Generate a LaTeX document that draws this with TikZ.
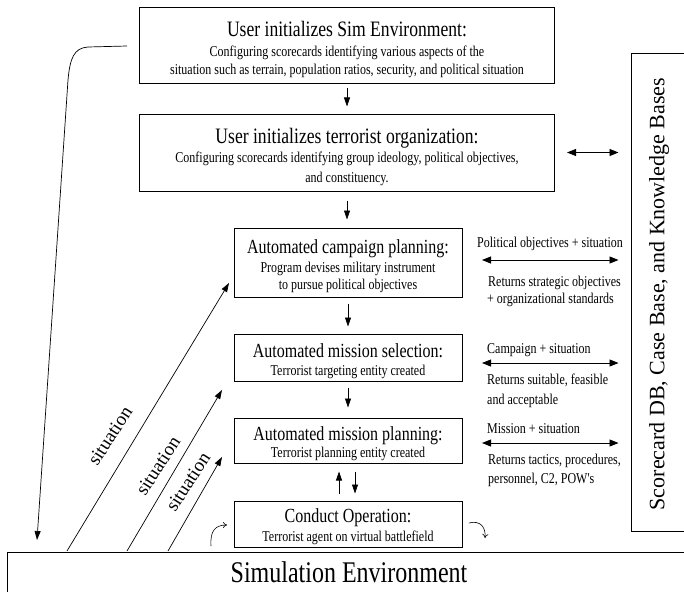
\documentclass[tikz,border=0pt]{standalone}
\usepackage{fontspec}
\setmainfont{Liberation Serif}
\newfontfamily\cnd[FakeStretch=0.8]{Liberation Serif}
\usetikzlibrary{arrows.meta}
\newcommand{\fsz}[1]{\fontsize{#1}{#1}\selectfont}
\begin{document}
\begin{tikzpicture}[x=1pt,y=-1pt,
  box/.style={draw, line width=1pt, inner sep=0pt},
  ttl/.style={anchor=base, inner sep=0pt, font=\cnd\fsz{22}},
  ttls/.style={anchor=base, inner sep=0pt, font=\cnd\fsz{20}},
  sml/.style={anchor=base, inner sep=0pt, font=\cnd\fsz{15}},
  rtxt/.style={anchor=base west, inner sep=0pt, font=\cnd\fsz{15}},
  sit/.style={inner sep=0pt, rotate=57, font=\fsz{19}},
  arr/.style={-{Triangle[length=9pt,width=6pt]}, line width=0.7pt},
  dbl/.style={{Triangle[length=9pt,width=7pt]}-{Triangle[length=9pt,width=7pt]}, line width=0.8pt},
  curv/.style={-{To[length=4pt,width=6pt]}, line width=0.6pt}]
\useasboundingbox (0,0) rectangle (684,591);
\clip (0,0) rectangle (684,591);

% boxes
\node[box, minimum width=415pt, minimum height=76pt] (b1) at (347,46) {};
\node[box, minimum width=415pt, minimum height=77pt] (b2) at (347,152.5) {};
\node[box, minimum width=228pt, minimum height=69pt] (b3) at (348,262.5) {};
\node[box, minimum width=228pt, minimum height=47pt] (b4) at (348,357.5) {};
\node[box, minimum width=228pt, minimum height=45pt] (b5) at (348,440.5) {};
\node[box, minimum width=228pt, minimum height=46pt] (b6) at (348,524) {};
\node[box, minimum width=713pt, minimum height=70pt] (sim) at (363.5,587) {};
\node[box, minimum width=90pt, minimum height=477pt] (kb) at (676,292.5) {};

% box texts
\node[ttl] (t1a) at (347,37) {User initializes Sim Environment:};
\node[sml] (t1b) at (347,57) {Configuring scorecards identifying various aspects of the};
\node[sml] (t1c) at (347,75) {situation such as terrain, population ratios, security, and political situation};
\node[ttl] (t2a) at (347,143) {User initializes terrorist organization:};
\node[sml] (t2b) at (347,162) {Configuring scorecards identifying group ideology, political objectives,};
\node[sml] (t2c) at (347,182) {and constituency.};
\node[ttls] (t3a) at (348,253) {Automated campaign planning:};
\node[sml] (t3b) at (348,272) {Program devises military instrument};
\node[sml] (t3c) at (348,289) {to pursue political objectives};
\node[ttls] (t4a) at (348,357) {Automated mission selection:};
\node[sml] (t4b) at (348,375) {Terrorist targeting entity created};
\node[ttls] (t5a) at (348,440) {Automated mission planning:};
\node[sml] (t5b) at (348,457) {Terrorist planning entity created};
\node[ttls] (t6a) at (348,522) {Conduct Operation:};
\node[sml] (t6b) at (348,541) {Terrorist agent on virtual battlefield};
\node[anchor=base, inner sep=0pt, font=\cnd\fsz{30}] (tsim) at (349,582) {Simulation Environment};
\node[inner sep=0pt, rotate=90, font=\fsz{22}] (tkb) at (659,294) {Scorecard DB, Case Base, and Knowledge Bases};

% right texts
\node[rtxt] (r1a) at (477,247) {Political objectives + situation};
\node[rtxt] (r1b) at (488,286) {Returns strategic objectives};
\node[rtxt] (r1c) at (487,303) {+ organizational standards};
\node[rtxt] (r2a) at (487,353) {Campaign + situation};
\node[rtxt] (r2b) at (487,384) {Returns suitable, feasible};
\node[rtxt] (r2c) at (487,404) {and acceptable};
\node[rtxt] (r3a) at (487,433) {Mission + situation};
\node[rtxt] (r3b) at (488,464) {Returns tactics, procedures,};
\node[rtxt] (r3c) at (488,483) {personnel, C2, POW's};

% vertical flow arrows
\draw[arr] ([yshift=-4pt]b1.south) -- ([yshift=7pt]b2.north);
\draw[arr] ([yshift=-9pt]b2.south) -- ([yshift=8pt]b2.south |- b3.north);
\draw[arr] ([yshift=-6pt]b3.south) -- ([yshift=7pt]b4.north);
\draw[arr] ([yshift=-6pt]b4.south) -- ([yshift=10pt]b5.north);
\draw[arr] ([xshift=-9pt,yshift=7pt]b6.north) -- ([xshift=-9pt,yshift=-8pt]b5.south);
\draw[arr] ([xshift=7pt,yshift=-8pt]b5.south) -- ([xshift=7pt,yshift=7pt]b6.north);

% double arrows to knowledge base
\draw[dbl, shorten >=12pt] ([xshift=12pt]b2.east) -- (b2.east -| kb.west);
\coordinate (d3) at (482,260);
\coordinate (d4) at (482,363);
\coordinate (d5) at (482,443);
\draw[dbl, shorten >=12pt] (d3) -- (d3 -| kb.west);
\draw[dbl, shorten >=12pt] (d4) -- (d4 -| kb.west);
\draw[dbl, shorten >=12pt] (d5) -- (d5 -| kb.west);

% situation arrows
\coordinate (s1) at (67,551);
\coordinate (s2) at (127,551);
\coordinate (s3) at (168,551);
\coordinate (h1) at (229,283);
\coordinate (h2) at (222,390);
\coordinate (h3) at (222,457);
\draw[arr] (s1) -- (h1);
\draw[arr] (s2) -- (h2);
\draw[arr] (s3) -- (h3);
\node[sit] (l1) at (110,436) {situation};
\node[sit] (l2) at (158,466) {situation};
\node[sit] (l3) at (188,482) {situation};

% feedback from sim environment set-up
\coordinate (c0) at (127,46);
\coordinate (c1) at (37,540);
\draw[arr] (c0) -- (88,47) .. controls (74,48) and (70,58) .. (68,80) -- (c1);

% small curved arrows
\coordinate (k1) at (211,546);
\coordinate (k2) at (227,525);
\coordinate (k3) at (469,523);
\coordinate (k4) at (485,538);
\draw[curv] (k1) .. controls (210,531) and (215,525) .. (k2);
\draw[curv] (k3) .. controls (480,520) and (486,527) .. (k4);
\end{tikzpicture}
\end{document}
